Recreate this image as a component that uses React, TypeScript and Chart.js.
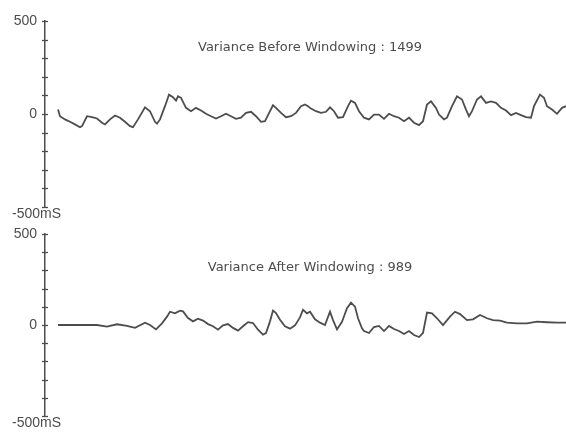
import React, { useEffect, useRef } from "react";
import { Chart, registerables } from "chart.js";

Chart.register(...registerables);

// Sample times (arbitrary units from the first sample) and values in mS
const beforeTimes = [0, 2, 7, 12, 17, 22, 24, 29, 34, 39, 44, 47, 52, 57, 62, 67, 72, 75, 80, 87, 92, 97, 99, 102, 107, 111, 115, 118, 120, 123, 128, 133, 138, 143, 148, 153, 158, 163, 168, 173, 178, 183, 188, 193, 198, 203, 207, 212, 215, 218, 223, 228, 233, 238, 243, 247, 250, 253, 258, 263, 268, 272, 276, 280, 285, 290, 293, 297, 301, 306, 311, 316, 321, 326, 331, 336, 341, 346, 351, 356, 361, 365, 369, 373, 378, 381, 386, 389, 394, 399, 404, 408, 411, 414, 419, 423, 428, 433, 438, 443, 448, 453, 458, 463, 468, 473, 476, 482, 486, 489, 494, 499, 504, 508];
const beforeValues = [24, -12, -29, -42, -56, -71, -65, -12, -17, -24, -47, -56, -29, -8, -20, -42, -65, -71, -29, 36, 15, -42, -52, -29, 42, 104, 90, 72, 95, 87, 33, 15, 33, 19, 1, -12, -24, -12, 1, -12, -26, -20, 6, 12, -12, -42, -39, 15, 47, 33, 6, -17, -12, 6, 42, 51, 42, 29, 15, 6, 12, 36, 15, -20, -17, 42, 72, 60, 15, -20, -29, -3, -3, -26, 1, -12, -20, -39, -20, -47, -60, -39, 51, 68, 33, -3, -29, -20, 42, 95, 78, 24, -12, 15, 78, 95, 60, 68, 60, 33, 19, -6, 6, -6, -17, -20, 42, 104, 87, 42, 24, 1, 33, 42];

const afterTimes = [0, 39, 49, 59, 69, 77, 87, 92, 98, 104, 109, 112, 117, 122, 125, 130, 135, 140, 145, 150, 155, 160, 165, 170, 175, 180, 185, 190, 195, 200, 205, 208, 212, 215, 218, 222, 227, 232, 237, 242, 245, 249, 252, 257, 262, 267, 272, 275, 279, 284, 289, 293, 297, 300, 304, 306, 311, 316, 321, 326, 331, 336, 341, 346, 351, 356, 361, 365, 369, 374, 379, 385, 392, 397, 402, 409, 415, 422, 429, 435, 442, 449, 459, 469, 479, 489, 499, 508];
const afterValues = [0, 0, -9, 4, -5, -16, 13, 0, -24, 9, 46, 73, 64, 79, 75, 38, 20, 35, 24, 5, -7, -26, -2, 5, -16, -31, -7, 16, 11, -26, -53, -44, 20, 79, 66, 29, -7, -20, -2, 42, 84, 64, 73, 31, 13, 0, 73, 27, -24, 18, 92, 123, 101, 37, -18, -33, -44, -11, -5, -33, -5, -22, -33, -49, -33, -55, -66, -44, 68, 64, 37, 0, 46, 73, 60, 27, 31, 55, 37, 27, 24, 13, 9, 9, 18, 15, 13, 13];

const tickValues = [500, 0, -500];
const tickTexts = ["500", "0", "-500mS"];

const beforeTitle = "Variance Before Windowing : 1499";
const afterTitle = "Variance After Windowing : 989";

const INK = "#4d4d4d";
const FONT = "'Liberation Sans', Arial, sans-serif";
const TITLE_FONT = "'DejaVu Sans', sans-serif";

const decorPlugin = {
  id: "decor",
  afterDraw(chart: any, _args: any, opts: any) {
    const ctx = chart.ctx as CanvasRenderingContext2D;
    const ys = chart.scales.y;
    const x0 = chart.chartArea.left;
    ctx.save();
    ctx.strokeStyle = INK;
    ctx.lineWidth = 1.3;
    ys.ticks.forEach((t: any) => {
      const py = Math.round(ys.getPixelForValue(t.value)) + 0.5;
      ctx.beginPath();
      ctx.moveTo(x0 - 3, py);
      ctx.lineTo(x0 + 3, py);
      ctx.stroke();
    });
    ctx.fillStyle = INK;
    ctx.font = `14px ${FONT}`;
    ctx.textBaseline = "middle";
    tickValues.forEach((v, i) => {
      const py = ys.getPixelForValue(v);
      if (v === -500) {
        ctx.textAlign = "left";
        ctx.fillText(tickTexts[i], 12, py + 7);
      } else {
        ctx.textAlign = "right";
        ctx.fillText(tickTexts[i], 37, py);
      }
    });
    ctx.font = `13px ${TITLE_FONT}`;
    ctx.textAlign = "center";
    ctx.fillText(opts.text, opts.x, ys.top + opts.dy);
    ctx.restore();
  },
};

function makeConfig(times: number[], values: number[], padTop: number, padBottom: number, title: string, dy: number): any {
  return {
    type: "line",
    data: {
      datasets: [
        {
          data: times.map((t, i) => ({ x: t, y: values[i] })),
          borderColor: INK,
          borderWidth: 1.8,
          pointRadius: 0,
          tension: 0,
          fill: false,
        },
      ],
    },
    options: {
      animation: false,
      responsive: false,
      maintainAspectRatio: false,
      layout: { padding: { top: padTop, bottom: padBottom, left: 0, right: 0 } },
      scales: {
        x: { type: "linear", min: -13, max: 508, display: false },
        y: {
          min: -500,
          max: 500,
          ticks: { display: false, stepSize: 100 },
          grid: { display: true, drawOnChartArea: false, drawTicks: false },
          border: { display: true, color: INK, width: 1.5 },
          afterFit: (s: any) => {
            s.width = 45;
          },
        },
      },
      plugins: {
        legend: { display: false },
        tooltip: { enabled: false },
        decor: { text: title, x: 310, dy },
      },
    },
    plugins: [decorPlugin],
  };
}

export default function App() {
  const topRef = useRef<HTMLCanvasElement>(null);
  const botRef = useRef<HTMLCanvasElement>(null);

  useEffect(() => {
    const c1 = new Chart(topRef.current!, makeConfig(beforeTimes, beforeValues, 21, 13, beforeTitle, 27));
    const c2 = new Chart(botRef.current!, makeConfig(afterTimes, afterValues, 14, 17, afterTitle, 34));
    return () => {
      c1.destroy();
      c2.destroy();
    };
  }, []);

  return (
    <div style={{ position: "absolute", left: 0, top: 0, width: 566, height: 433, background: "#fff" }}>
      <canvas ref={topRef} width={566} height={220} style={{ position: "absolute", left: 0, top: 0, display: "block" }} />
      <canvas ref={botRef} width={566} height={213} style={{ position: "absolute", left: 0, top: 220, display: "block" }} />
    </div>
  );
}
